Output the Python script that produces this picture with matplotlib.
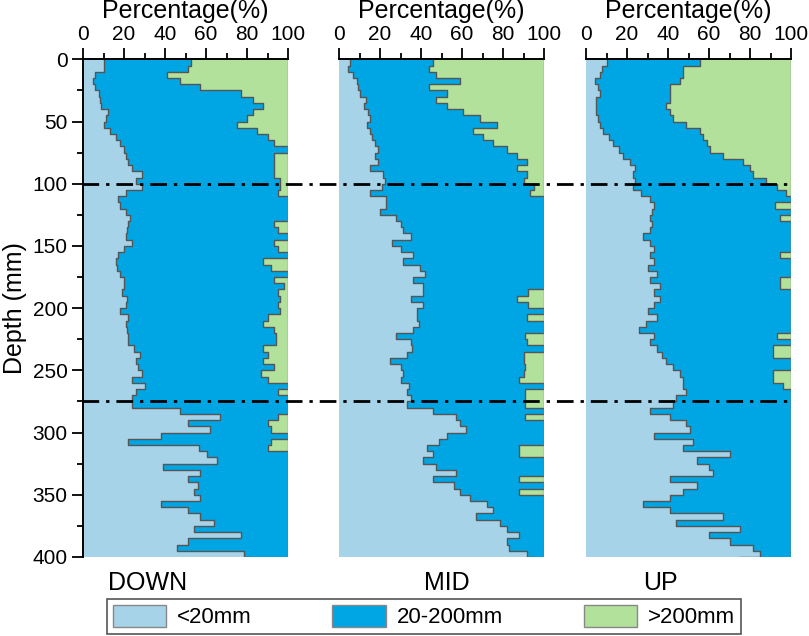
import matplotlib
matplotlib.use("Agg")
import matplotlib.pyplot as plt
import numpy as np
from matplotlib.lines import Line2D
from matplotlib.patches import Patch
from matplotlib.transforms import blended_transform_factory

plt.rcParams['font.family'] = ['Liberation Sans', 'DejaVu Sans']

# depth of each reading (mm)
depth = np.arange(0, 401, 5)

# percentage of <20mm particles
down_fine = [10, 10, 6, 5, 6, 8, 8.5, 9, 12, 11,
             10, 13, 16, 18, 20, 21, 22, 24, 29, 26,
             29, 21, 17, 18, 21, 23, 22, 21.5, 21, 24,
             20, 17, 16, 16.5, 18, 20, 20, 19, 21.5, 21,
             18, 22, 21, 21.5, 22, 22, 25, 28, 26, 27,
             29, 24, 30, 26, 24, 24, 47.5, 67, 51, 62,
             38, 22, 56.5, 60.5, 65.5, 39, 57, 51, 56, 54,
             57, 38, 51, 57, 64, 54, 77, 51, 46, 78.5,
             83]
mid_fine = [5.4, 4.5, 7, 8.6, 9.4, 10, 13, 12, 14, 15,
            13.5, 15, 16, 17.5, 19, 17.5, 19, 15, 21.5, 22.5,
            21, 15, 23, 23, 20, 28, 30, 31, 35, 26,
            30, 36, 31, 39.5, 42, 36, 41, 41, 35, 41,
            38, 38, 39, 36, 28, 35, 35.5, 33, 25, 30,
            31, 30, 34, 33, 35, 33, 46, 57, 59, 62,
            52.5, 49, 43, 46, 41, 47.5, 57, 46, 56, 59,
            64, 72, 75, 67, 78.5, 82, 88, 82, 83, 91.5,
            95]
up_fine = [10, 7.6, 7, 4.4, 6, 7, 5, 5, 5, 6,
           7, 8.5, 11, 13, 16, 18, 21.5, 24, 23, 24,
           23, 27, 31, 33, 32, 31, 32, 31, 28, 31,
           33, 31, 33, 30, 34.5, 31, 36, 33, 36, 33,
           30, 34.5, 29.5, 26, 33, 31, 34.5, 37, 39, 42.5,
           46, 47.5, 47.5, 49, 44, 42.5, 31, 41, 49, 50.5,
           33, 52, 47.5, 70, 54, 60, 62, 41, 54, 47.5,
           41, 28, 41, 67, 44, 75, 60, 70, 81.5, 85,
           75]

# percentage of >200mm particles
down_coarse = [47.5, 49, 59, 52.5, 43, 23, 17, 12, 17, 20,
               25, 15, 10, 7, 0, 7, 7, 7, 7, 4,
               4, 5, 0, 0, 0, 0, 7, 5, 0, 7,
               5, 0, 12, 8.5, 0, 7, 2, 5, 4, 5,
               4, 10, 12, 7, 6, 6, 12, 10, 12, 7,
               13, 10, 0, 5, 0, 0, 0, 5, 10, 8.5,
               0, 8.5, 10, 0, 0, 0, 0, 0, 0, 0,
               0, 0, 0, 0, 0, 0, 0, 0, 0, 0,
               0]
mid_coarse = [54, 56, 52.5, 41, 56, 47.5, 52.5, 47.5, 39.5, 31,
              23, 34.5, 30, 25, 18, 13, 8.5, 13, 8.5, 10,
              5, 7, 0, 0, 0, 0, 0, 0, 0, 0,
              0, 0, 0, 0, 0, 0, 0, 8, 13, 8,
              0, 8.5, 0, 0, 9.5, 8.5, 0, 10, 10, 9.5,
              10, 12, 0, 9.5, 9.5, 9.5, 0, 9.5, 0, 0,
              0, 0, 12, 12, 0, 0, 0, 12, 0, 12,
              0, 0, 0, 0, 0, 0, 0, 0, 0, 0,
              0]
up_coarse = [44.5, 52.5, 52.5, 54, 59, 59, 59, 61, 59, 57.5,
             51, 44.5, 43, 41, 39.5, 33, 23.5, 20, 18.5, 12,
             7, 2.5, 0, 8, 0, 5.5, 0, 0, 0, 0,
             0, 5.5, 0, 0, 0, 5.5, 5.5, 0, 0, 0,
             0, 0, 0, 0, 7, 0, 9, 9, 0, 0,
             9, 9, 4, 0, 0, 0, 0, 0, 0, 0,
             0, 0, 0, 0, 0, 0, 0, 0, 0, 0,
             0, 0, 0, 0, 0, 0, 0, 0, 0, 0,
             0]

sites = ['DOWN', 'MID', 'UP']
classes = ['<20mm', '20-200mm', '>200mm']
colors = ['#a7d3e9', '#00a5e3', '#b1e19b']
edge = '#555555'


def stairs(d, v):
    # vertical step outline, each value holds until the next reading
    yy = np.repeat(d, 2)[1:]
    xx = np.repeat(v, 2)[:-1]
    return xx, yy


fig = plt.figure(figsize=(8.09, 6.36), dpi=100)
lefts = [83 / 809, 339 / 809, 586 / 809]
axes = []
for i, (f, c) in enumerate(zip([down_fine, mid_fine, up_fine],
                               [down_coarse, mid_coarse, up_coarse])):
    ax = fig.add_axes([lefts[i], 1 - 557 / 636, 205 / 809, 497.7 / 636])
    f = np.array(f, dtype=float)
    top = 100 - np.array(c, dtype=float)
    ax.fill_betweenx(depth, 0, f, step='post', color=colors[0], lw=0)
    ax.fill_betweenx(depth, f, top, step='post', color=colors[1], lw=0)
    ax.fill_betweenx(depth, top, 100, step='post', color=colors[2], lw=0)
    ax.plot(*stairs(depth, f), color=edge, lw=1.0)
    ax.plot(*stairs(depth, top), color=edge, lw=1.0)
    ax.axvline(100, color='#888888', lw=1.0)

    ax.set_xlim(0, 100)
    ax.set_ylim(400, 0)
    ax.xaxis.tick_top()
    ax.xaxis.set_label_position('top')
    ax.set_xticks(np.arange(0, 101, 20))
    ax.set_xticks(np.arange(10, 100, 20), minor=True)
    ax.set_xlabel('Percentage(%)', fontsize=18, labelpad=5)
    ax.tick_params(axis='x', which='major', direction='out', length=8,
                   width=1.3, labelsize=15, pad=3)
    ax.tick_params(axis='x', which='minor', direction='out', length=4.5,
                   width=1.3)
    for s in ['right', 'bottom']:
        ax.spines[s].set_visible(False)
    ax.spines['top'].set_linewidth(1.4)
    if i == 0:
        ax.set_yticks(np.arange(0, 401, 50))
        ax.set_yticks(np.arange(25, 400, 50), minor=True)
        ax.tick_params(axis='y', which='major', direction='out', length=8,
                       width=1.3, labelsize=15, pad=3)
        ax.tick_params(axis='y', which='minor', direction='out', length=4.5,
                       width=1.3)
        ax.spines['left'].set_linewidth(1.4)
    else:
        ax.spines['left'].set_visible(False)
        ax.set_yticks([])
    axes.append(ax)

# dash-dot boundaries running across all three panels
tr = blended_transform_factory(fig.transFigure, axes[0].transData)
for d in [100, 275]:
    fig.add_artist(Line2D([82 / 809, 790 / 809], [d, d], transform=tr,
                          color='black', lw=2.0,
                          linestyle=(0, (6, 2.5, 1.2, 2.5))))

fig.text(15 / 809, 1 - 308 / 636, 'Depth (mm)', rotation=90, fontsize=18,
         ha='center', va='center')
fig.text(108 / 809, 1 - 583 / 636, sites[0], fontsize=18, ha='left', va='center')
fig.text(447 / 809, 1 - 583 / 636, sites[1], fontsize=18, ha='center', va='center')
fig.text(660 / 809, 1 - 583 / 636, sites[2], fontsize=18, ha='center', va='center')

handles = [Patch(facecolor=colors[k], edgecolor='#888888', lw=1.0, label=classes[k])
           for k in range(3)]
leg = fig.legend(handles=handles, loc='lower left', ncol=3, mode='expand',
                 bbox_to_anchor=(107 / 809, 2 / 636, 634 / 809, 36 / 636),
                 borderaxespad=0, fontsize=16, frameon=True, fancybox=False,
                 edgecolor='#555555', framealpha=1, handlelength=2.4,
                 handleheight=1.2, handletextpad=0.5, borderpad=0.25)
leg.get_frame().set_linewidth(1.2)

fig.savefig('out.png', dpi=100)
